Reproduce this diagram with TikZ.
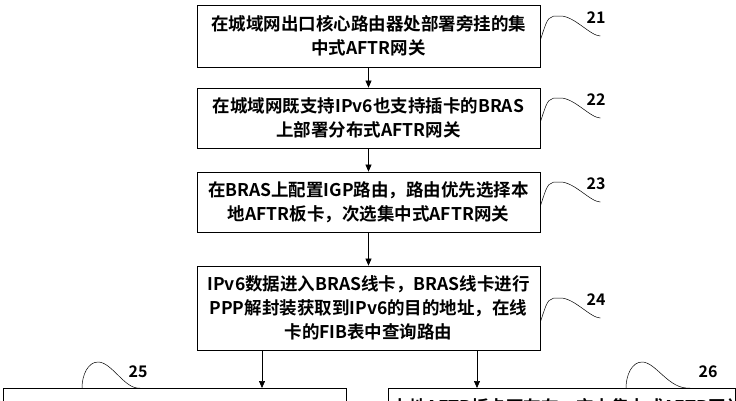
\documentclass[tikz,border=0pt]{standalone}
\usepackage{fontspec}
\setmainfont{Noto Sans CJK SC}[BoldFont={Noto Sans CJK SC Bold}]
\usetikzlibrary{arrows.meta}
\begin{document}
\begin{tikzpicture}[x=1pt,y=-1pt,
  stepbox/.style={draw,line width=0.8pt,minimum width=343pt,text width=336pt,align=center,font=\fontsize{17.5}{24}\selectfont\bfseries,inner sep=3pt},
  arr/.style={-{Triangle[length=7pt,width=6pt]},line width=0.7pt},
  sq/.style={line width=0.5pt},
  lab/.style={font=\fontsize{16}{18}\selectfont\bfseries}]
\useasboundingbox (0,0) rectangle (736,400);
\begin{scope}
\clip (0,0) rectangle (736,400);
\node[stepbox,minimum height=62pt] (b1) at (368.5,36) {在城域网出口核心路由器处部署旁挂的集\\中式AFTR网关};
\node[stepbox,minimum height=60pt] (b2) at (368.5,118) {在城域网既支持IPv6也支持插卡的BRAS\\上部署分布式AFTR网关};
\node[stepbox,minimum height=60pt] (b3) at (368.5,202) {在BRAS上配置IGP路由，路由优先选择本\\地AFTR板卡，次选集中式AFTR网关};
\node[stepbox,minimum height=84pt] (b4) at (368.5,308) {IPv6数据进入BRAS线卡，BRAS线卡进行\\PPP解封装获取到IPv6的目的地址，在线\\卡的FIB表中查询路由};
\node[draw,line width=0.8pt,anchor=north west,minimum width=343pt,minimum height=60pt] (b5) at (3,388) {};
\node[draw,line width=0.8pt,anchor=north west,minimum width=347pt,minimum height=60pt,text width=340pt,align=left,font=\fontsize{17.5}{24}\selectfont\bfseries,inner sep=3pt] (b6) at (388,388) {本地AFTR板卡不存在，交由集中式AFTR网关\\处理};
\draw[arr] (b1.south) -- (b2.north);
\draw[arr] (b2.south) -- (b3.north);
\draw[arr] (b3.south) -- (b4.north);
\draw[arr] (b4.south -| 262,0) -- (b5.north -| 262,0);
\draw[arr] (b4.south -| 477,0) -- (b6.north -| 477,0);
\foreach \b/\y/\t in {b1/40/21,b2/122/22,b3/206/23,b4/322/24}{
  \draw[sq] (\b.east |- 0,\y) .. controls +(8,-25) and +(-12,0) .. ++(20,-24) .. controls +(14,0) and +(-10,0) .. ++(40,20);
  \node[lab] at (596,\y-22) {\t};
}
\draw[sq] (82,388) .. controls (82,375) and (88,362) .. (98,362) .. controls (112,362) and (125,390) .. (140,388);
\node[lab] at (138,372) {25};
\draw[sq] (626,388) .. controls (626,375) and (632,362) .. (642,362) .. controls (656,362) and (669,390) .. (690,388);
\node[lab] at (708,372) {26};
\end{scope}
\end{tikzpicture}
\end{document}
